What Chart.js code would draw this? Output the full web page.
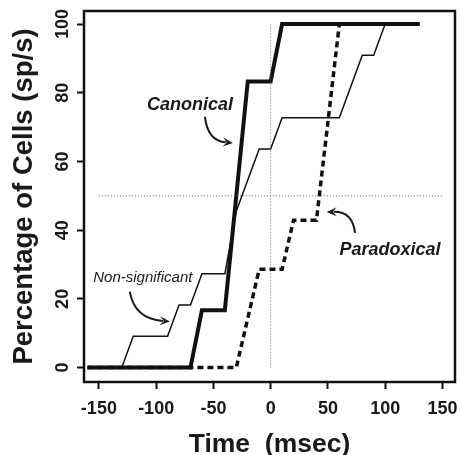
<!DOCTYPE html>
<html>
<head>
<meta charset="utf-8">
<script src="https://cdn.jsdelivr.net/npm/chart.js@4.4.0/dist/chart.umd.min.js"></script>
<style>
  html, body { margin: 0; padding: 0; background: #fff; }
  #wrap { width: 461px; height: 455px; }
</style>
</head>
<body>
<div id="wrap"><canvas id="chart" width="461" height="455"></canvas></div>
<script>
// cumulative onset curves, time in msec, percentage of cells
const canonT = [-160, -70, -60, -40, -20, 0, 10, 130];
const canonV = [0, 0, 16.7, 16.7, 83.3, 83.3, 100, 100];

const nonSigT = [-160, -130, -120, -90, -80, -70, -60, -40, -30, -10, 0, 10, 60, 80, 90, 100, 130];
const nonSigV = [0, 0, 9.1, 9.1, 18.2, 18.2, 27.3, 27.3, 45.5, 63.6, 63.6, 72.7, 72.7, 90.9, 90.9, 100, 100];

const paraT = [-160, -30, -10, 10, 20, 40, 60, 130];
const paraV = [0, 0, 28.6, 28.6, 42.9, 42.9, 100, 100];

// dotted guides at t = 0 and 50 %
const vGuideT = [0, 0];
const vGuideV = [0, 100];
const hGuideT = [-150, 150];
const hGuideV = [50, 50];

const xTicks = [-150, -100, -50, 0, 50, 100, 150];
const yTicks = [0, 20, 40, 60, 80, 100];

// curve labels: text, label position, arrow start / bend / tip (data units)
const notes = [
  { text: "Canonical", font: "italic bold 18px 'Liberation Sans', Arial, sans-serif",
    at: [-70.5, 76.5], from: [-57.4, 73], bend: [-55, 66], to: [-33, 65.4] },
  { text: "Non-significant", font: "italic 15px 'Liberation Sans', Arial, sans-serif",
    at: [-111.6, 26.2], from: [-123, 22.1], bend: [-119, 14.2], to: [-88, 13.4] },
  { text: "Paradoxical", font: "italic bold 18px 'Liberation Sans', Arial, sans-serif",
    at: [104.3, 34.3], from: [73.7, 39.2], bend: [71.5, 45.5], to: [49, 45.3] }
];

const pts = (t, v) => t.map((x, i) => ({ x: x, y: v[i] }));

const framePlugin = {
  id: "frame",
  afterDraw(chart) {
    const { ctx, chartArea: a } = chart;
    ctx.save();
    ctx.strokeStyle = "#111";
    ctx.lineWidth = 2.5;
    ctx.strokeRect(a.left, a.top, a.right - a.left, a.bottom - a.top);
    ctx.restore();
  }
};

const notesPlugin = {
  id: "notes",
  afterDatasetsDraw(chart) {
    const { ctx, scales: { x, y } } = chart;
    const px = p => [x.getPixelForValue(p[0]), y.getPixelForValue(p[1])];
    ctx.save();
    ctx.fillStyle = "#1a1a1a";
    ctx.strokeStyle = "#1a1a1a";
    notes.forEach(n => {
      const [lx, ly] = px(n.at);
      ctx.font = n.font;
      ctx.textAlign = "center";
      ctx.textBaseline = "middle";
      ctx.fillText(n.text, lx, ly);

      const [sx, sy] = px(n.from);
      const [cx, cy] = px(n.bend);
      const [ex, ey] = px(n.to);
      const ang = Math.atan2(ey - cy, ex - cx);
      const back = 7;
      ctx.lineWidth = 2;
      ctx.beginPath();
      ctx.moveTo(sx, sy);
      ctx.quadraticCurveTo(cx, cy, ex - back * Math.cos(ang), ey - back * Math.sin(ang));
      ctx.stroke();
      // arrow head
      const len = 10, half = 4.5;
      ctx.beginPath();
      ctx.moveTo(ex, ey);
      ctx.lineTo(ex - len * Math.cos(ang) + half * Math.sin(ang), ey - len * Math.sin(ang) - half * Math.cos(ang));
      ctx.lineTo(ex - 0.6 * len * Math.cos(ang), ey - 0.6 * len * Math.sin(ang));
      ctx.lineTo(ex - len * Math.cos(ang) - half * Math.sin(ang), ey - len * Math.sin(ang) + half * Math.cos(ang));
      ctx.closePath();
      ctx.fill();
    });
    ctx.restore();
  }
};

const guide = (t, v) => ({
  data: pts(t, v), borderColor: "#666", borderWidth: 1, borderDash: [1, 2]
});

new Chart(document.getElementById("chart"), {
  type: "scatter",
  data: {
    datasets: [
      guide(vGuideT, vGuideV),
      guide(hGuideT, hGuideV),
      { label: "Paradoxical", data: pts(paraT, paraV), borderColor: "#111", borderWidth: 3.5, borderDash: [6, 4] },
      { label: "Non-significant", data: pts(nonSigT, nonSigV), borderColor: "#111", borderWidth: 1.5 },
      { label: "Canonical", data: pts(canonT, canonV), borderColor: "#111", borderWidth: 4 }
    ].map(d => Object.assign({ showLine: true, pointRadius: 0, tension: 0, fill: false }, d))
  },
  options: {
    responsive: false,
    animation: false,
    layout: { padding: { left: 0, right: 6, top: 11, bottom: 0 } },
    plugins: { legend: { display: false }, tooltip: { enabled: false } },
    scales: {
      x: {
        type: "linear",
        min: -163,
        max: 161,
        afterBuildTicks: s => { s.ticks = xTicks.map(v => ({ value: v })); },
        afterFit: s => { s.height = 73; s.paddingLeft = 0; s.paddingRight = 0; },
        border: { display: false },
        grid: { drawOnChartArea: false, drawTicks: true, tickLength: 7, tickWidth: 2, tickColor: "#111" },
        ticks: {
          color: "#1a1a1a", padding: 9, maxRotation: 0, autoSkip: false,
          font: { family: "'Liberation Sans', Arial, sans-serif", size: 18, weight: "bold" }
        },
        title: {
          display: true, text: "Time  (msec)", color: "#1a1a1a", padding: { top: 0, bottom: 0 },
          font: { family: "'Liberation Sans', Arial, sans-serif", size: 26.5, weight: "bold", lineHeight: 0.78 }
        }
      },
      y: {
        type: "linear",
        min: -4.2,
        max: 103.8,
        afterBuildTicks: s => { s.ticks = yTicks.map(v => ({ value: v })); },
        afterFit: s => { s.width = 84; s.paddingTop = 0; s.paddingBottom = 0; },
        border: { display: false },
        grid: { drawOnChartArea: false, drawTicks: true, tickLength: 7, tickWidth: 2, tickColor: "#111" },
        ticks: {
          color: "#1a1a1a", padding: -1, minRotation: 90, maxRotation: 90, crossAlign: "center", autoSkip: false,
          font: { family: "'Liberation Sans', Arial, sans-serif", size: 18, weight: "bold" }
        },
        title: {
          display: true, text: "Percentage of Cells (sp/s)", color: "#1a1a1a", padding: { top: 11, bottom: 0 },
          font: { family: "'Liberation Sans', Arial, sans-serif", size: 27.5, weight: "bold", lineHeight: 1 }
        }
      }
    }
  },
  plugins: [framePlugin, notesPlugin]
});
</script>
</body>
</html>
